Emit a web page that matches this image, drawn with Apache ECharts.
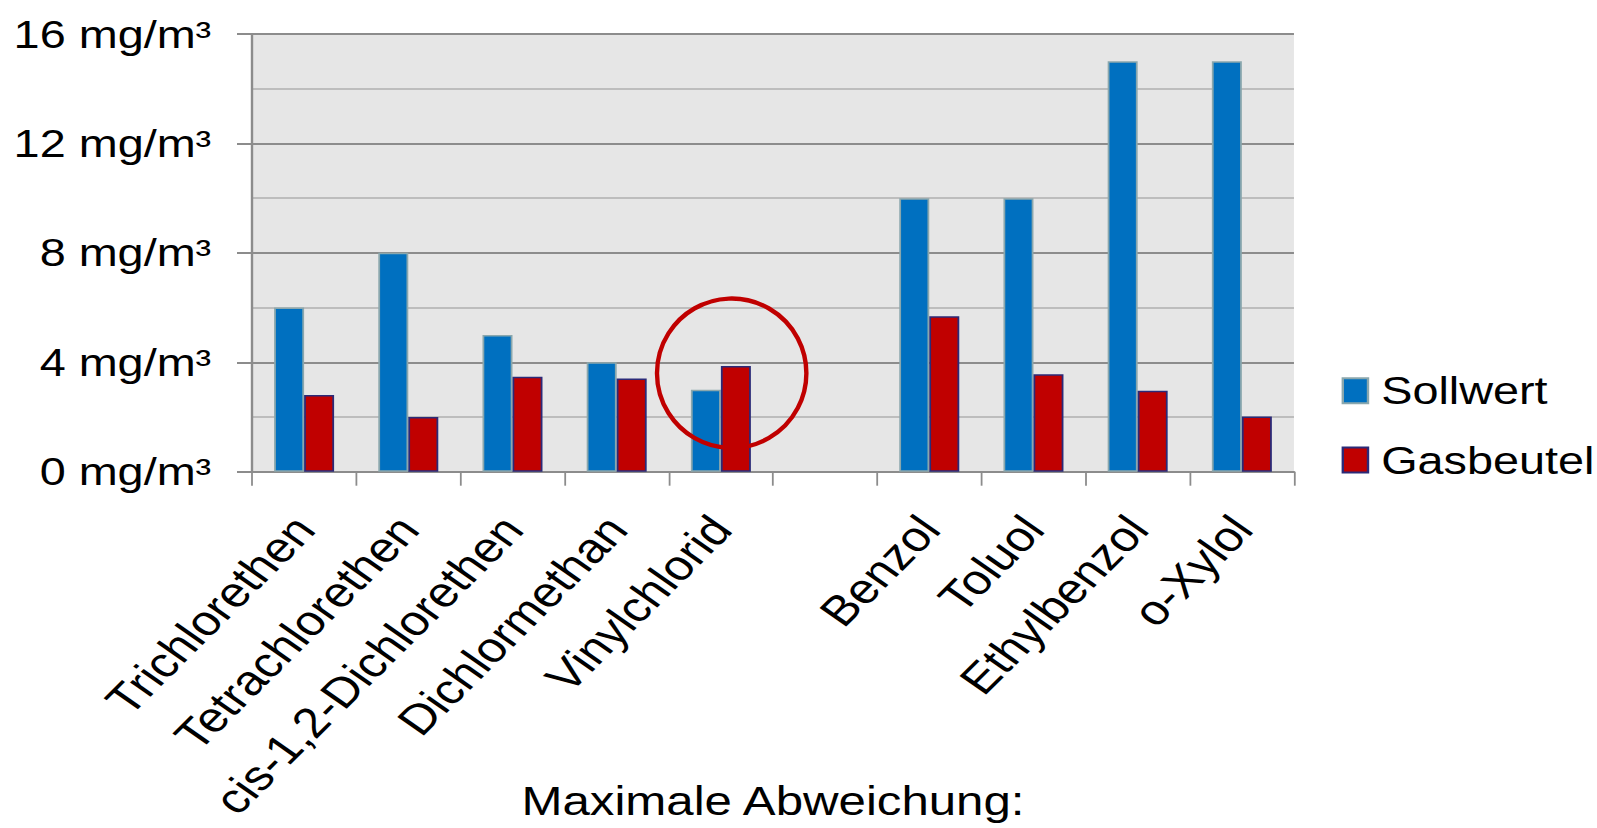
<!DOCTYPE html>
<html>
<head>
<meta charset="utf-8">
<script src="https://cdn.jsdelivr.net/npm/echarts@6/dist/echarts.min.js"></script>
<style>
  html, body { margin: 0; padding: 0; background: #ffffff; overflow: hidden; }
  #chart { width: 1331px; height: 828px; transform: scaleX(1.2); transform-origin: 0 0; }
</style>
</head>
<body>
<div id="chart"></div>
<script>
// ---- data ----
const categories = ['Trichlorethen', 'Tetrachlorethen', 'cis-1,2-Dichlorethen', 'Dichlormethan', 'Vinylchlorid', '', 'Benzol', 'Toluol', 'Ethylbenzol', 'o-Xylol'];
const sollwert  = [6, 8, 5, 4, 3, null, 10, 10, 15, 15];
const gasbeutel = [2.8, 2.0, 3.47, 3.41, 3.86, null, 5.68, 3.56, 2.96, 2.02];
const seriesNames = ['Sollwert', 'Gasbeutel'];
const yUnit = ' mg/m³';
const xTitle = 'Maximale Abweichung:';
const highlightCategory = 'Vinylchlorid';
const highlightValue = 3.6;

const FONT = '"Liberation Sans", Arial, sans-serif';
const chart = echarts.init(document.getElementById('chart'), null, { renderer: 'svg' });

chart.setOption({
  animation: false,
  backgroundColor: '#ffffff',
  textStyle: { fontFamily: FONT, color: '#000' },
  grid: {
    left: 210, right: 252.7, top: 34, bottom: 356.3,
    containLabel: false, outerBoundsMode: 'none',
    show: true, backgroundColor: '#e6e6e6', borderWidth: 0
  },
  legend: {
    orient: 'vertical',
    left: 1118, top: 370.8,
    padding: 0,
    icon: 'rect',
    itemWidth: 21, itemHeight: 25, itemGap: 29.2,
    textStyle: { fontFamily: FONT, fontSize: 39, color: '#000', lineHeight: 40, padding: [0, 0, 0, 6] },
    data: seriesNames
  },
  xAxis: {
    type: 'category',
    data: categories,
    axisLine: { show: true, lineStyle: { color: '#8c8c8c', width: 2 } },
    axisTick: { show: true, length: 14, lineStyle: { color: '#8c8c8c', width: 1.5 } },
    axisLabel: { interval: 0, rotate: 50, margin: 50, fontSize: 42, color: '#000', fontFamily: FONT },
    name: xTitle,
    nameLocation: 'middle',
    nameGap: 309,
    nameMoveOverlap: false,
    nameTextStyle: { fontSize: 41, color: '#000', fontFamily: FONT }
  },
  yAxis: {
    type: 'value',
    min: 0, max: 16, interval: 4,
    axisLine: { show: true, lineStyle: { color: '#8c8c8c', width: 2 } },
    axisTick: { show: true, length: 12.5, lineStyle: { color: '#8c8c8c', width: 2 } },
    axisLabel: {
      margin: 34, fontSize: 39, color: '#000', fontFamily: FONT,
      padding: [0, 0, 7, 0],
      formatter: v => v + yUnit
    },
    splitLine: { show: true, lineStyle: { color: '#8c8c8c', width: 2 } },
    minorTick: { show: false, splitNumber: 2 },
    minorSplitLine: { show: true, lineStyle: { color: '#bdbdbd', width: 2 } }
  },
  series: [
    {
      name: seriesNames[0], type: 'bar', data: sollwert,
      barWidth: 25, barGap: '0%',
      itemStyle: { color: '#0070c0', borderColor: '#8aa7ad', borderWidth: 1.5 }
    },
    {
      name: seriesNames[1], type: 'bar', data: gasbeutel,
      barWidth: 25, barGap: '0%',
      itemStyle: { color: '#c00000', borderColor: '#2b2a78', borderWidth: 1.5 },
      markPoint: {
        silent: true,
        symbol: 'circle',
        symbolSize: [124.5, 149.4],
        symbolOffset: [-3.5, 0],
        itemStyle: { color: 'rgba(0,0,0,0)', borderColor: '#c00000', borderWidth: 4 },
        label: { show: false },
        data: [{ coord: [highlightCategory, highlightValue] }]
      }
    }
  ]
});
</script>
</body>
</html>
